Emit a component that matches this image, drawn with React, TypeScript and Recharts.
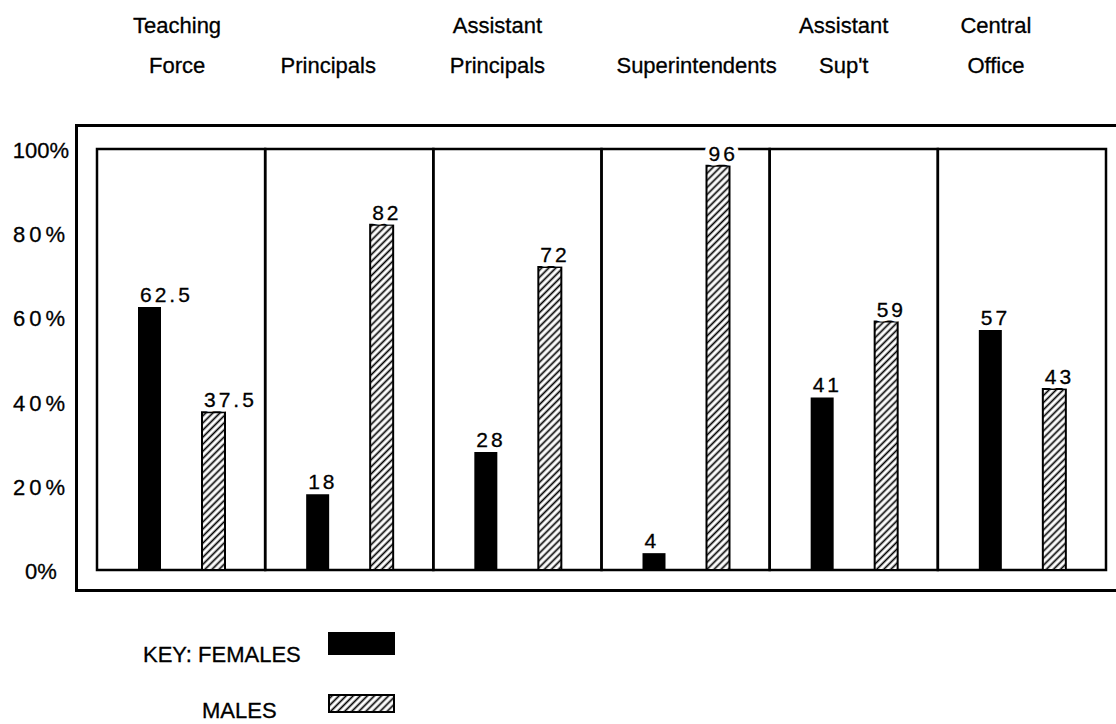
import { Bar, BarChart, LabelList, ReferenceArea, XAxis, YAxis } from "recharts";

// categories as printed over each panel (two lines, split on \n)
const CATEGORIES = [
  "Teaching\nForce",
  "\nPrincipals",
  "Assistant\nPrincipals",
  "\nSuperintendents",
  "Assistant\nSup't",
  "Central\nOffice",
];
const FEMALES = [62.5, 18, 28, 4, 41, 57];
const MALES = [37.5, 82, 72, 96, 59, 43];
const Y_TICKS = [0, 20, 40, 60, 80, 100];

const FONT = '"Liberation Sans", Arial, Helvetica, sans-serif';
// the printed headers sit a little off the panel centres
const HEADER_NUDGE = [-4, -21, -20, 11, -10, -26];

const data = CATEGORIES.map((name, i) => ({ name, females: FEMALES[i], males: MALES[i] }));

function HeaderTick(props: any) {
  const { x, y, payload, index } = props;
  const [top, bottom] = String(payload.value).split("\n");
  const cx = Number(x) + (HEADER_NUDGE[index] ?? 0);
  return (
    <g fontFamily={FONT} fontSize={22} fill="#000" stroke="#000" strokeWidth={0.3}>
      <text x={cx} y={Number(y) - 116} textAnchor="middle">
        {top}
      </text>
      <text x={cx} y={Number(y) - 76} textAnchor="middle">
        {bottom}
      </text>
    </g>
  );
}

function PercentTick(props: any) {
  const { x, y, payload } = props;
  const v = Number(payload.value);
  return (
    <text
      x={Number(x) - 56}
      y={Number(y) + 9}
      textAnchor="middle"
      fontFamily={FONT}
      fontSize={22}
      letterSpacing={v > 0 && v < 100 ? 4 : 0}
      fill="#000"
      stroke="#000"
      strokeWidth={0.3}
    >
      {`${v}%`}
    </text>
  );
}

function ValueLabel(props: any) {
  const { x, y, value } = props;
  return (
    <g fontFamily={FONT} fontSize={21} letterSpacing={3}>
      <text x={Number(x) + 2} y={Number(y) - 5} fill="#fff" stroke="#fff" strokeWidth={9} strokeLinejoin="round">
        {value}
      </text>
      <text x={Number(x) + 2} y={Number(y) - 5} fill="#000" stroke="#000" strokeWidth={0.3}>
        {value}
      </text>
    </g>
  );
}

function Hatch({ id }: { id: string }) {
  return (
    <pattern id={id} patternUnits="userSpaceOnUse" width={5} height={5} patternTransform="rotate(45)">
      <rect width={5} height={5} fill="#fff" />
      <line x1={2.5} y1={0} x2={2.5} y2={5} stroke="#000" strokeWidth={1.7} />
    </pattern>
  );
}

export default function App() {
  return (
    <div style={{ position: "absolute", left: 0, top: 0, width: 1116, height: 724, overflow: "hidden", background: "#fff" }}>
      <svg width={0} height={0} style={{ position: "absolute" }}>
        <defs>
          <Hatch id="hatch" />
        </defs>
      </svg>
      {/* outer frame */}
      <div
        style={{
          position: "absolute",
          left: 75,
          top: 124,
          width: 1116,
          height: 468,
          border: "3px solid #000",
          boxSizing: "border-box",
        }}
      />
      <div style={{ position: "absolute", left: 0, top: 0 }}>
        <BarChart
          width={1116}
          height={724}
          data={data}
          margin={{ top: 0, right: 10, bottom: 154, left: 0 }}
          barSize={23}
          barGap={41}
        >
          <XAxis
            dataKey="name"
            orientation="top"
            height={149}
            interval={0}
            axisLine={false}
            tickLine={false}
            tickSize={0}
            tickMargin={0}
            tick={<HeaderTick />}
          />
          <YAxis
            width={97}
            domain={[0, 100]}
            ticks={Y_TICKS}
            axisLine={false}
            tickLine={false}
            tickSize={0}
            tickMargin={0}
            tick={<PercentTick />}
          />
          {CATEGORIES.map((c) => (
            <ReferenceArea
              key={c}
              x1={c}
              x2={c}
              y1={0}
              y2={100}
              fill="none"
              stroke="#000"
              strokeWidth={2.5}
              ifOverflow="visible"
            />
          ))}
          <Bar dataKey="females" fill="#000" isAnimationActive={false}>
            <LabelList dataKey="females" content={<ValueLabel />} />
          </Bar>
          <Bar dataKey="males" fill="url(#hatch)" stroke="#000" strokeWidth={2} isAnimationActive={false}>
            <LabelList dataKey="males" content={<ValueLabel />} />
          </Bar>
        </BarChart>
      </div>
      {/* key */}
      <svg width={420} height={124} style={{ position: "absolute", left: 0, top: 600 }}>
        <defs>
          <Hatch id="hatch-key" />
        </defs>
        <g fontFamily={FONT} fontSize={22} fill="#000" stroke="#000" strokeWidth={0.3}>
          <text x={143} y={62}>KEY: FEMALES</text>
          <text x={202} y={118}>MALES</text>
        </g>
        <rect x={328} y={32} width={67} height={23} fill="#000" />
        <rect x={329} y={95} width={65} height={17} fill="url(#hatch-key)" stroke="#000" strokeWidth={2} />
      </svg>
    </div>
  );
}
